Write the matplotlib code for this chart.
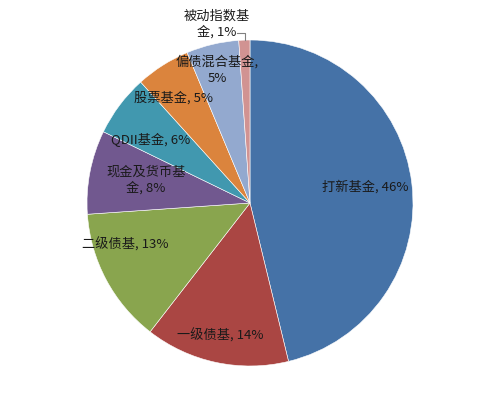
import matplotlib.pyplot as plt

plt.rcParams['font.family'] = ['Noto Sans CJK SC', 'DejaVu Sans']

names = ['打新基金', '一级债基', '二级债基', '现金及货币基\n金', 'QDII基金', '股票基金', '偏债混合基金', '被动指数基\n金']
shares = [46.2, 14.3, 13.4, 8.3, 6.1, 5.4, 5.2, 1.1]
colors = ['#4572A7', '#AA4643', '#89A54E', '#71588F', '#4198AF', '#DB843D', '#93A9CF', '#D19392']

# separator between name and percentage (the data labels wrap differently)
seps = [', ', ', ', ', ', ', ', ', ', ', ', ',\n', ', ']
# label centres in pie units (radius 1)
label_pos = [(0.706, 0.098), (-0.184, -0.816), (-0.767, -0.252), (-0.638, 0.141),
             (-0.607, 0.387), (-0.472, 0.644), (-0.202, 0.816), (-0.202, 1.098)]

fig = plt.figure(figsize=(5, 4.08), dpi=100)
r = 163
ax = fig.add_axes([(250 - r) / 500, (408 - 203 - r) / 408, 2 * r / 500, 2 * r / 408])

ax.pie(shares, colors=colors, startangle=90, counterclock=False, radius=1,
       wedgeprops=dict(edgecolor='white', linewidth=0.4))
ax.set_xlim(-1, 1)
ax.set_ylim(-1, 1)
ax.set_aspect('equal')
ax.axis('off')

for name, val, sep, (x, y) in zip(names, shares, seps, label_pos):
    ax.text(x, y, f'{name}{sep}{round(val)}%', ha='center', va='center',
            fontsize=9.5, color='#1a1a1a', linespacing=1.25, clip_on=False)

# leader line for the small slice
ax.plot([(237 - 250) / r, (245 - 250) / r, (245 - 250) / r],
        [(203 - 33) / r, (203 - 33) / r, (203 - 40) / r],
        color='#808080', linewidth=0.8, clip_on=False)

fig.savefig('out.png', dpi=100)
